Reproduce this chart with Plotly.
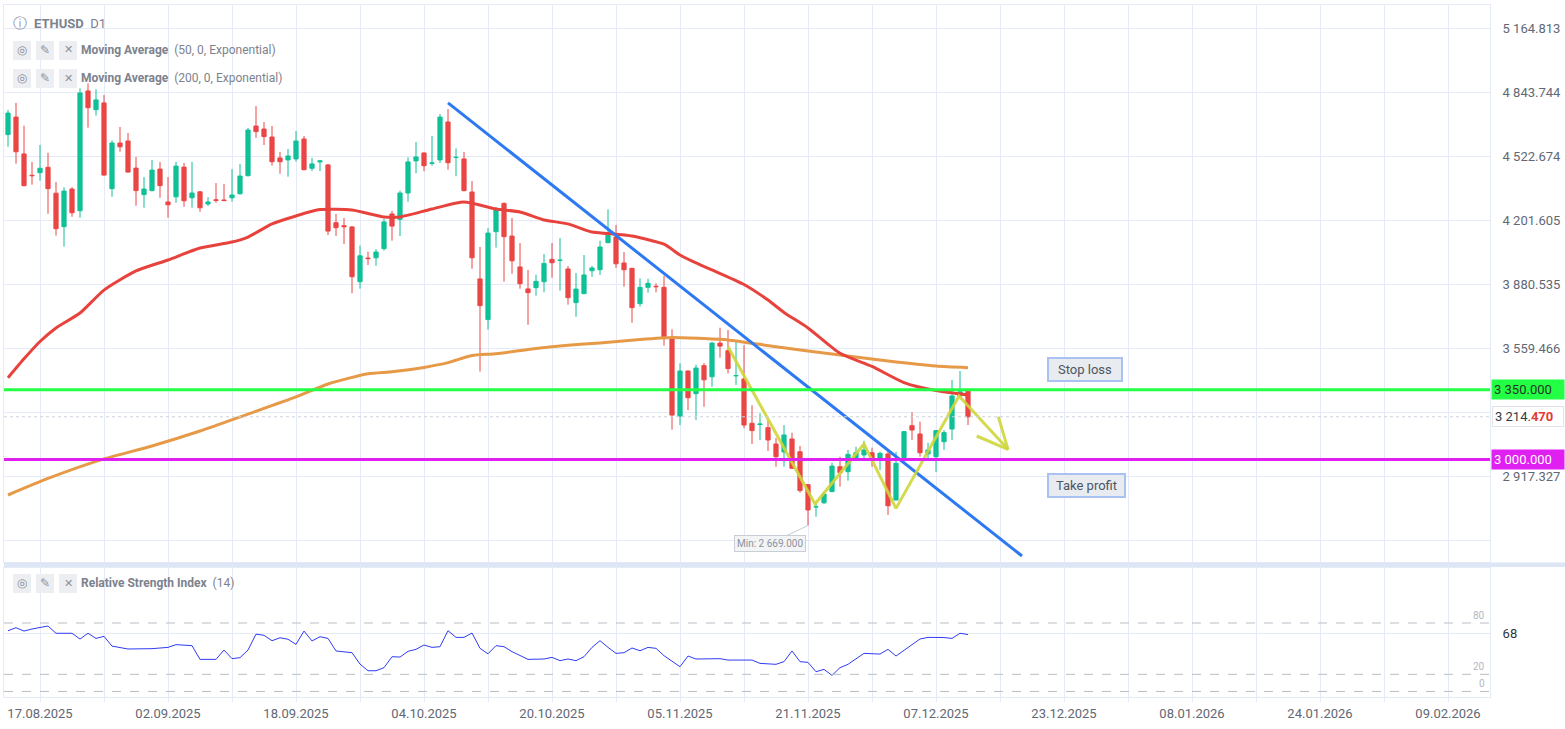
import pandas as pd
import plotly.graph_objects as go

# --- Data (ETHUSD, daily) ---
first_day = "2025-08-13"

opens = [4630, 4718, 4533, 4426, 4439, 4466, 4336, 4168, 4357, 4248,
         4849, 4755, 4789, 4359, 4588, 4598, 4462, 4329, 4349, 4457,
         4292, 4318, 4467, 4313, 4343, 4282, 4303, 4302, 4313, 4333,
         4424, 4673, 4658, 4618, 4513, 4503, 4508, 4608, 4461, 4493,
         4478, 4188, 4173, 4167, 3892, 4011, 4012, 4058, 4232, 4205,
         4337, 4498, 4538, 4486, 4503, 4693, 4515, 4508, 4342, 3906,
         3702, 4143, 4285, 4121, 3966, 3856, 3862, 3892, 4004, 3999,
         3956, 3787, 3832, 3947, 3952, 4088, 4116, 3986, 3959, 3782,
         3864, 3869, 3864, 3608, 3218, 3444, 3330, 3471, 3415, 3584,
         3546, 3420, 3404, 3182, 3175, 3160, 3078, 3038, 3103, 3039,
         2874, 2762, 2783, 2839, 2964, 2939, 3001, 3023, 3034, 3006,
         3028, 2797, 3009, 3170, 3128, 3028, 3014, 3089, 3153, 3319,
         3344]
highs = [4754, 4789, 4675, 4493, 4578, 4539, 4392, 4366, 4366, 4862,
         4887, 4857, 4829, 4601, 4668, 4638, 4518, 4417, 4503, 4493,
         4417, 4493, 4488, 4493, 4347, 4316, 4387, 4382, 4457, 4483,
         4663, 4773, 4693, 4673, 4543, 4558, 4648, 4623, 4513, 4503,
         4483, 4232, 4212, 4170, 4073, 4043, 4056, 4208, 4247, 4349,
         4516, 4593, 4540, 4623, 4733, 4758, 4561, 4543, 4397, 4066,
         4161, 4268, 4290, 4212, 4086, 3951, 3927, 4031, 4086, 4111,
         3971, 3936, 4026, 3971, 4098, 4255, 4177, 4041, 3962, 3909,
         3907, 3884, 3921, 3653, 3483, 3446, 3476, 3484, 3590, 3661,
         3650, 3590, 3573, 3272, 3232, 3198, 3108, 3173, 3135, 3068,
         2876, 2788, 2839, 2984, 3014, 3048, 3064, 3094, 3059, 3039,
         3044, 3039, 3142, 3237, 3190, 3084, 3148, 3148, 3399, 3444,
         3346]
lows = [4569, 4484, 4370, 4379, 4399, 4233, 4123, 4068, 4218, 4213,
        4665, 4725, 4424, 4318, 4544, 4439, 4273, 4263, 4345, 4313,
        4213, 4288, 4268, 4263, 4243, 4272, 4288, 4298, 4293, 4330,
        4420, 4614, 4578, 4474, 4434, 4419, 4494, 4451, 4447, 4447,
        4126, 4121, 4081, 3834, 3857, 3976, 3972, 4048, 4098, 4121,
        4293, 4436, 4446, 4474, 4488, 4454, 4421, 4345, 3957, 3441,
        3651, 4063, 3892, 3932, 3857, 3676, 3822, 3839, 3912, 3847,
        3777, 3716, 3830, 3917, 3926, 4085, 3961, 3867, 3686, 3767,
        3837, 3839, 3571, 3150, 3173, 3248, 3198, 3265, 3365, 3511,
        3432, 3374, 3157, 3078, 3098, 3043, 2964, 2964, 2953, 2834,
        2669, 2713, 2777, 2836, 2864, 2894, 2997, 3007, 2964, 2947,
        2722, 2795, 2998, 3098, 3014, 2998, 2937, 3048, 3098, 3315,
        3173]
closes = [4738, 4544, 4374, 4424, 4461, 4359, 4158, 4347, 4238, 4839,
          4765, 4804, 4427, 4588, 4569, 4442, 4349, 4357, 4452, 4374,
          4278, 4472, 4298, 4337, 4263, 4292, 4300, 4299, 4327, 4422,
          4653, 4645, 4620, 4494, 4494, 4523, 4598, 4454, 4483, 4498,
          4146, 4163, 4168, 3917, 4022, 4008, 4041, 4192, 4171, 4337,
          4493, 4518, 4474, 4488, 4718, 4489, 4516, 4349, 4012, 3772,
          4136, 4252, 4118, 3997, 3882, 3837, 3894, 3984, 3987, 4000,
          3812, 3855, 3926, 3961, 4066, 4125, 3982, 3952, 3762, 3864,
          3884, 3867, 3616, 3223, 3444, 3310, 3459, 3400, 3584, 3569,
          3456, 3421, 3173, 3145, 3178, 3098, 3014, 3123, 2956, 2844,
          2747, 2763, 2827, 2967, 2934, 3026, 3034, 3048, 3006, 3031,
          2768, 2981, 3140, 3148, 3034, 3048, 3145, 3135, 3319, 3340,
          3214.47]

# EMA 50 / EMA 200 read at selected days (index = day number from first_day)
ema50_idx = [0, 2, 4, 6, 9, 12, 16, 20, 24, 28, 30, 33, 36, 39, 43, 47, 49, 53, 57, 61,
             64, 67, 70, 73, 75, 78, 82, 84, 86, 88, 92, 95, 97, 100, 104, 108, 112, 116, 120]
ema50_vals = [3410, 3505, 3592, 3660, 3735, 3850, 3946, 4001, 4061, 4091, 4116, 4182, 4222,
              4254, 4252, 4217, 4217, 4257, 4292, 4257, 4242, 4202, 4182, 4141, 4134, 4121,
              4080, 4026, 3986, 3951, 3878, 3800, 3738, 3660, 3533, 3467, 3386, 3346, 3324]
ema200_idx = [0, 5, 12, 18, 24, 30, 36, 40, 45, 48, 52, 55, 58, 61, 66, 70, 74, 79, 83, 87,
              90, 96, 104, 110, 116, 120]
ema200_vals = [2822, 2905, 3003, 3068, 3143, 3228, 3314, 3379, 3430, 3440, 3462, 3486, 3522,
               3531, 3557, 3573, 3585, 3602, 3612, 3607, 3600, 3566, 3524, 3494, 3469, 3461]

# RSI(14)
rsi_idx = [0, 1, 2, 3, 5, 6, 8, 9, 10, 11,
           12, 13, 15, 18, 20, 21, 23, 24, 26, 27,
           28, 29, 30, 31, 32, 33, 34, 35, 36, 37,
           38, 39, 40, 41, 43, 44, 45, 46, 47, 48,
           49, 50, 51, 52, 53, 54, 55, 56, 57, 58,
           59, 60, 61, 62, 63, 65, 67, 68, 69, 70,
           71, 72, 73, 74, 75, 76, 77, 78, 79, 80,
           81, 82, 84, 85, 86, 87, 89, 90, 93, 94,
           96, 97, 98, 99, 100, 101, 102, 103, 104, 105,
           107, 109, 110, 111, 112, 114, 115, 117, 118, 119,
           120]
rsi_vals = [71, 74.5, 70.6, 73, 76.5, 68, 68, 61.3, 68, 62,
            64.4, 53, 49.6, 50, 51.5, 54.7, 53.5, 37.5, 37.5, 48.4,
            38.3, 39.5, 48.4, 67, 65.6, 59.3, 62.8, 61, 55, 70.6,
            59, 64, 62, 47.3, 45.3, 32, 24.2, 24.2, 27.8, 40.6,
            40.2, 46.9, 49.2, 54.3, 51.5, 52.3, 71, 63.2, 63.2, 68.3,
            50.4, 44, 53.5, 52.3, 46.5, 37.5, 37.9, 39.8, 36, 37.9,
            36, 40.6, 51.5, 59.3, 51.5, 44.5, 45.3, 50.8, 47.6, 51.5,
            50.4, 41.8, 28.9, 41.4, 37.9, 37.9, 38.3, 36.7, 36.7, 32.8,
            31.7, 34.8, 47.3, 34.8, 34, 23, 25.8, 18.8, 27.8, 31.7,
            44.5, 43.7, 49.2, 41.4, 48.4, 61.3, 63.2, 63, 62, 68,
            66.5]
rsi_levels = [80, 20, 0]

# drawings
trend_x = ["2025-10-07", "2025-12-17 18:00"]
trend_y = [4789, 2516]
zigzag_x = ["2025-11-11", "2025-11-21 21:00", "2025-11-28", "2025-12-02",
            "2025-12-09 21:00", "2025-12-16"]
zigzag_y = [3566, 2777, 3078, 2755, 3319, 3051]
arrowhead_x = ["2025-12-14 19:00", "2025-12-16", "2025-12-12 02:00"]
arrowhead_y = [3215, 3051, 3118]

stop_loss = 3350
take_profit = 3000
last_price = 3214.47
min_price = 2669

price_ticks = [2596.258, 2917.327, 3238.396, 3559.466, 3880.535,
               4201.605, 4522.674, 4843.744, 5164.813]
price_labels = ["", "2 917.327", "", "3 559.466", "3 880.535",
                "4 201.605", "4 522.674", "4 843.744", "5 164.813"]
date_labels = ["17.08.2025", "02.09.2025", "18.09.2025", "04.10.2025",
               "20.10.2025", "05.11.2025", "21.11.2025", "07.12.2025",
               "23.12.2025", "08.01.2026", "24.01.2026", "09.02.2026"]

# --- helpers for pixel placement ---
W, H = 1565, 729
ML, MR, MT, MB = 4, 75, 5, 32


def xp(px):
    return (px - ML) / (W - ML - MR)


def yp(py):
    return (H - MB - py) / (H - MT - MB)


dates = pd.date_range(first_day, periods=len(opens), freq="D")
grid_dates = pd.date_range("2025-08-17", periods=2 * len(date_labels) - 1, freq="8D")
grid_text = [date_labels[k // 2] if k % 2 == 0 else "" for k in range(len(grid_dates))]

GREEN = "#10c097"
RED = "#ea4646"
GRID = "#e5ebf6"
TXT = "#616874"

fig = go.Figure()

fig.add_trace(go.Candlestick(
    x=dates, open=opens, high=highs, low=lows, close=closes,
    increasing=dict(line=dict(color=GREEN, width=1), fillcolor=GREEN),
    decreasing=dict(line=dict(color=RED, width=1), fillcolor=RED),
    xaxis="x", yaxis="y", hoverinfo="skip",
))

fig.add_trace(go.Scatter(
    x=[dates[i] for i in ema200_idx], y=ema200_vals, mode="lines",
    line=dict(color="#e69a48", width=3, shape="spline", smoothing=0.6),
    xaxis="x", yaxis="y",
))
fig.add_trace(go.Scatter(
    x=[dates[i] for i in ema50_idx], y=ema50_vals, mode="lines",
    line=dict(color="#e8423d", width=3, shape="spline", smoothing=0.6),
    xaxis="x", yaxis="y",
))

# trend line and zigzag
fig.add_trace(go.Scatter(x=trend_x, y=trend_y, mode="lines",
                         line=dict(color="#2c79f2", width=3), xaxis="x", yaxis="y"))
fig.add_trace(go.Scatter(x=zigzag_x, y=zigzag_y, mode="lines",
                         line=dict(color="rgba(206,214,58,0.9)", width=3), xaxis="x", yaxis="y"))
fig.add_trace(go.Scatter(x=arrowhead_x, y=arrowhead_y, mode="lines",
                         line=dict(color="rgba(206,214,58,0.9)", width=3), xaxis="x", yaxis="y"))

# RSI
fig.add_trace(go.Scatter(
    x=[dates[i] for i in rsi_idx], y=rsi_vals, mode="lines",
    line=dict(color="#2f3cf2", width=1), xaxis="x2", yaxis="y2",
))

shapes = []
# horizontal levels
shapes.append(dict(type="line", xref="paper", x0=0, x1=1, yref="y", y0=last_price, y1=last_price,
                   line=dict(color="#cdd2db", width=1, dash="dot")))
shapes.append(dict(type="line", xref="paper", x0=0, x1=1, yref="y", y0=stop_loss, y1=stop_loss,
                   line=dict(color="#22ff44", width=3)))
shapes.append(dict(type="line", xref="paper", x0=0, x1=1, yref="y", y0=take_profit, y1=take_profit,
                   line=dict(color="#e020f0", width=3)))
for lv in rsi_levels:
    shapes.append(dict(type="line", xref="paper", x0=0, x1=1, yref="y2", y0=lv, y1=lv,
                       line=dict(color="#b9bdc8", width=1, dash="dash")))
# panel separator
shapes.append(dict(type="rect", xref="paper", x0=0, x1=xp(W), yref="paper",
                   y0=yp(567), y1=yp(562.5), fillcolor="#dde6f5", line_width=0))
# legend icon boxes
for row_y in [(41, 60), (69, 88), (574, 593)]:
    for bx in [(13, 31), (36, 54), (59, 77)]:
        shapes.append(dict(type="rect", xref="paper", yref="paper",
                           x0=xp(bx[0]), x1=xp(bx[1]), y0=yp(row_y[1]), y1=yp(row_y[0]),
                           fillcolor="#eceef2", line_width=0, layer="above"))

annotations = []


def note(px, py, text, size=12, color=TXT, anchor="left", **kw):
    annotations.append(dict(xref="paper", yref="paper", x=xp(px), y=yp(py), text=text,
                            showarrow=False, xanchor=anchor, yanchor="middle",
                            font=dict(size=size, color=color), **kw))


note(20, 23, "ⓘ", size=14, color="#8b909a", anchor="center")
note(32, 23, "<b>ETHUSD</b>  D1", size=13, color="#7c828d")
for row_y, label in [(50, "<b>Moving Average</b>  (50, 0, Exponential)"),
                     (78, "<b>Moving Average</b>  (200, 0, Exponential)"),
                     (583, "<b>Relative Strength Index</b>  (14)")]:
    note(22, row_y, "◎", size=12, color="#8b909a", anchor="center")
    note(45, row_y, "✎", size=12, color="#8b909a", anchor="center")
    note(68, row_y, "✕", size=11, color="#8b909a", anchor="center")
    note(79, row_y, label, size=12, color="#7c828d")

# stop loss / take profit boxes
for py, label, w in [(369, "Stop loss", 66), (485, "Take profit", 69)]:
    note(1047, py, label, size=13, color="#4d5562", bgcolor="#e8ebf0",
         bordercolor="#a9c2f2", borderwidth=2, borderpad=3, width=w, height=15)

# right-hand price tags
annotations.append(dict(xref="paper", yref="y", x=xp(1491), y=stop_loss, xanchor="left",
                        text="3 350.000", showarrow=False, bgcolor="#22ff44", width=68, height=15,
                        align="left", borderpad=2, font=dict(size=13, color="#263326")))
annotations.append(dict(xref="paper", yref="y", x=xp(1491), y=take_profit, xanchor="left",
                        text="3 000.000", showarrow=False, bgcolor="#e020f0", width=68, height=15,
                        align="left", borderpad=2, font=dict(size=13, color="white")))
annotations.append(dict(xref="paper", yref="y", x=xp(1492), y=last_price, xanchor="left",
                        text="3 214.<span style='color:#e53935;font-weight:bold'>470</span>",
                        showarrow=False, bgcolor="white", bordercolor="#dfe3ea", borderwidth=1,
                        width=66, height=15, align="left", borderpad=2,
                        font=dict(size=13, color="#333a44")))

# min label
annotations.append(dict(xref="x", yref="y", x=dates[lows.index(min_price)], y=min_price,
                        text="Min: 2 669.000", showarrow=True, arrowhead=0, arrowwidth=1,
                        arrowcolor="#c9cdd5", ax=-38, ay=18, bgcolor="#f3f4f6",
                        bordercolor="#c9cdd5", borderwidth=1, borderpad=2,
                        font=dict(size=10, color="#8c919b")))

# RSI level labels
for lv in rsi_levels:
    annotations.append(dict(xref="paper", yref="y2", x=xp(1487), y=lv, xanchor="right",
                            yanchor="bottom", text=str(lv), showarrow=False,
                            font=dict(size=10, color="#b5b9c3")))

fig.update_layout(
    width=W, height=H,
    margin=dict(l=ML, r=MR, t=MT, b=MB),
    plot_bgcolor="white", paper_bgcolor="white",
    showlegend=False, boxgap=0.25,
    font=dict(family="Roboto", size=13, color=TXT),
    xaxis=dict(domain=[0, 1], anchor="y", type="date",
               range=["2025-08-12 12:00", "2026-02-14 06:00"],
               tickvals=grid_dates, showticklabels=False, showgrid=True, gridcolor=GRID,
               showline=True, mirror=True, linecolor=GRID, zeroline=False,
               rangeslider=dict(visible=False)),
    xaxis2=dict(domain=[0, 1], anchor="y2", type="date", matches="x",
                tickvals=grid_dates, ticktext=grid_text, showgrid=True, gridcolor=GRID,
                showline=True, mirror=True, linecolor=GRID, zeroline=False,
                ticks="outside", ticklen=4, tickcolor=GRID,
                tickfont=dict(size=13, color=TXT)),
    yaxis=dict(domain=[yp(562), 1], anchor="x", side="right", range=[2485.9, 5280.2],
               tickvals=price_ticks, ticktext=price_labels, showgrid=True, gridcolor=GRID,
               showline=True, mirror=True, linecolor=GRID, zeroline=False,
               ticks="", ticklabelstandoff=9, tickfont=dict(size=13, color=TXT)),
    yaxis2=dict(domain=[0, yp(568)], anchor="x2", side="right", range=[-6.5, 144.3],
                tickvals=[68], ticktext=["68"], showgrid=True, gridcolor=GRID,
                showline=True, mirror=True, linecolor=GRID, zeroline=False,
                ticks="", ticklabelstandoff=9, tickfont=dict(size=13, color="#30343b")),
    shapes=shapes,
    annotations=annotations,
)

# the page's default body margin would shift the figure by 8px
fig.write_html("out.html", config={"displayModeBar": False},
               post_script="document.body.style.margin='0';")
